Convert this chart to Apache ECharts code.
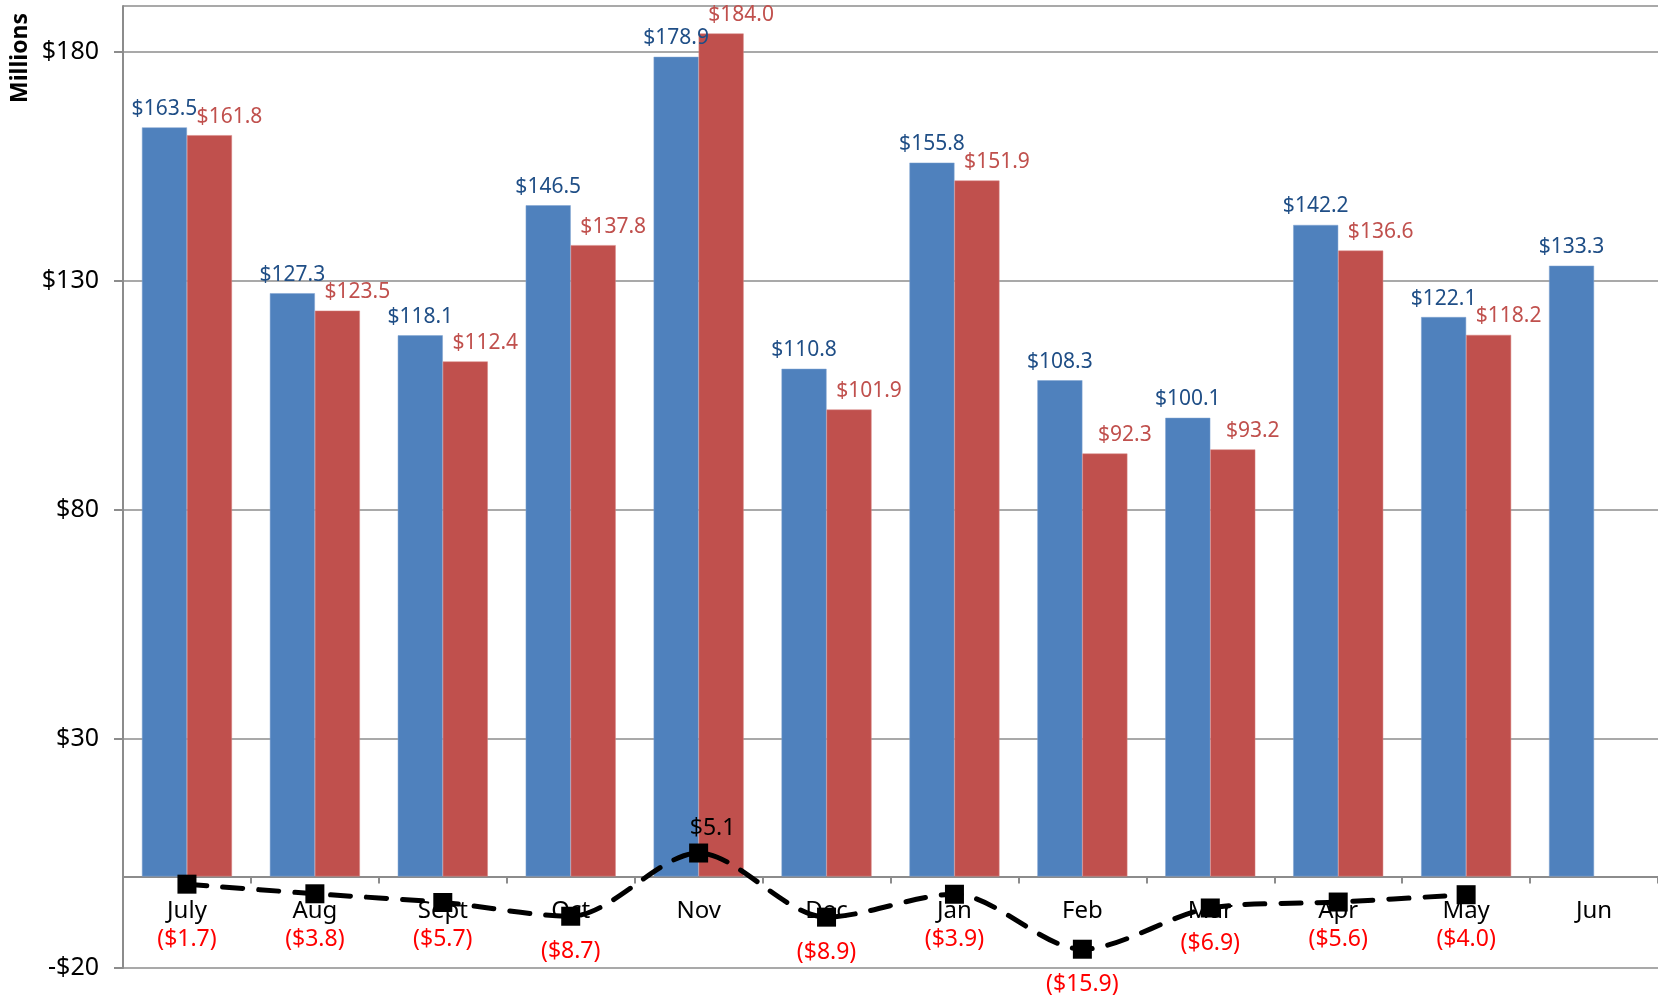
<!DOCTYPE html>
<html>
<head>
<meta charset="utf-8">
<script src="https://cdn.jsdelivr.net/npm/echarts@6/dist/echarts.min.js"></script>
<style>
html,body{margin:0;padding:0;background:#fff;}
#chart{width:1658px;height:1000px;}
</style>
</head>
<body>
<div id="chart"></div>
<script>
var categories = ['July','Aug','Sept','Oct','Nov','Dec','Jan','Feb','Mar','Apr','May','Jun'];
var blueValues = [163.5,127.3,118.1,146.5,178.9,110.8,155.8,108.3,100.1,142.2,122.1,133.3];
var redValues  = [161.8,123.5,112.4,137.8,184.0,101.9,151.9,92.3,93.2,136.6,118.2,null];
var diffValues = [-1.7,-3.8,-5.7,-8.7,5.1,-8.9,-3.9,-15.9,-6.9,-5.6,-4.0,null];
var yTicks = [-20,30,80,130,180];

var FONT = '"Noto Sans", "DejaVu Sans", sans-serif';

function money(v){ return '$' + Math.abs(v).toFixed(1); }

function buildDiffData(chart){
  return diffValues.map(function(v){
    if (v === null) return null;
    if (v >= 0) {
      return { value: v, label: { position: 'top', distance: 4, color: '#000000', offset: [14, 0], formatter: money(v) } };
    }
    // negative labels sit on a common row below the category names, or just below the point if it is lower
    var labelValue = Math.min(-13.8, v - 7.7);
    var dy = 0;
    if (chart) {
      dy = chart.convertToPixel({ yAxisIndex: 0 }, labelValue) - chart.convertToPixel({ yAxisIndex: 0 }, v);
    }
    return { value: v, label: { position: 'inside', offset: [0, dy], color: '#FF0000', formatter: '(' + money(v) + ')' } };
  });
}

var chart = echarts.init(document.getElementById('chart'), null, {renderer:'canvas'});
chart.setOption({
  animation: false,
  backgroundColor: '#ffffff',
  grid: { left: 123, right: 0, top: 6, bottom: 32, outerBoundsMode: 'none', containLabel: false },
  graphic: [{
    type: 'text',
    x: 20, y: 58,
    rotation: Math.PI / 2,
    style: {
      text: 'Millions',
      font: 'bold 23px ' + FONT,
      fill: '#000',
      textAlign: 'center',
      textVerticalAlign: 'middle'
    }
  }],
  xAxis: {
    type: 'category',
    data: categories,
    axisLine: { onZero: true, lineStyle: { color: '#8c8c8c', width: 2 } },
    axisTick: { show: true, length: 7, lineStyle: { color: '#8c8c8c', width: 2 } },
    axisLabel: { color: '#000', fontFamily: FONT, fontSize: 24, margin: -69 },
    splitLine: { show: false }
  },
  yAxis: {
    type: 'value',
    min: -20, max: 190, interval: 50,
    axisLine: { show: true, lineStyle: { color: '#8c8c8c', width: 2 } },
    axisTick: { show: true, length: 9, lineStyle: { color: '#8c8c8c', width: 2 } },
    axisLabel: {
      color: '#000', fontFamily: FONT, fontSize: 25, margin: 24,
      showMaxLabel: false,
      formatter: function(v){
        if (yTicks.indexOf(v) < 0) return '';
        return (v < 0 ? '-$' : '$') + Math.abs(v);
      }
    },
    splitLine: { show: true, lineStyle: { color: '#8c8c8c', width: 1.5 } }
  },
  series: [
    {
      type: 'bar',
      data: blueValues,
      barWidth: 45,
      barGap: '0%',
      itemStyle: { color: '#4F81BD', borderColor: '#7FA3D0', borderWidth: 0.5 },
      label: {
        show: true, position: 'top', distance: 8,
        color: '#1F4E86', fontFamily: FONT, fontSize: 21,
        formatter: function(p){ return money(p.value); }
      },
      z: 2
    },
    {
      type: 'bar',
      data: redValues,
      barWidth: 45,
      barGap: '0%',
      itemStyle: { color: '#C0504D', borderColor: '#D88583', borderWidth: 0.5 },
      label: {
        show: true, position: 'top', distance: 8, offset: [20, 0],
        color: '#C0504D', fontFamily: FONT, fontSize: 21,
        formatter: function(p){ return p.value == null ? '' : money(p.value); }
      },
      z: 2
    },
    {
      id: 'diff',
      type: 'line',
      data: buildDiffData(null),
      smooth: 0.3,
      connectNulls: false,
      symbol: 'rect',
      symbolSize: 19,
      itemStyle: { color: '#000' },
      lineStyle: { color: '#000', width: 5, type: [20, 16], cap: 'round' },
      label: { show: true, fontFamily: FONT, fontSize: 23 },
      z: 5
    }
  ]
});
chart.setOption({ series: [{ id: 'diff', data: buildDiffData(chart) }] });
</script>
</body>
</html>
